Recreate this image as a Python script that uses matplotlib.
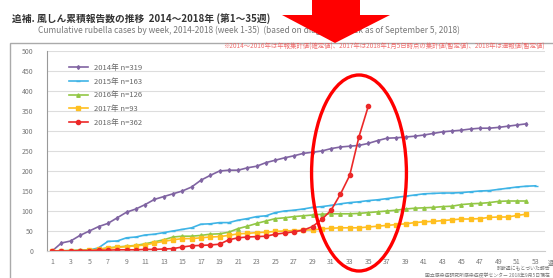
import numpy as np
import matplotlib
matplotlib.use('Agg')
import matplotlib.pyplot as plt
from matplotlib.patches import Ellipse, Polygon, Rectangle

plt.rcParams['font.family'] = ['Noto Sans CJK JP', 'DejaVu Sans']

# cumulative rubella reports by week
y2014 = [0, 20, 25, 39, 50, 61, 69, 83, 97, 105, 116, 129, 136, 143, 150, 160, 177, 189, 200, 202,
         202, 208, 212, 221, 227, 233, 238, 244, 247, 250, 256, 260, 262, 264, 269, 276, 282, 283, 285, 287,
         290, 294, 298, 300, 302, 305, 307, 307, 309, 312, 315, 318]
y2015 = [0, 0, 1, 1, 2, 8, 24, 25, 33, 35, 40, 42, 46, 50, 54, 58, 67, 68, 71, 71,
         77, 81, 86, 88, 96, 100, 102, 105, 109, 111, 114, 118, 121, 123, 126, 128, 131, 134, 137, 140,
         143, 144, 145, 145, 146, 148, 150, 151, 154, 157, 160, 162, 163]
y2016 = [0, 1, 1, 2, 3, 4, 8, 10, 12, 14, 18, 23, 28, 35, 37, 37, 39, 42, 43, 47,
         56, 62, 69, 75, 81, 83, 86, 88, 90, 92, 93, 93, 93, 94, 96, 98, 100, 102, 105, 107,
         108, 109, 111, 112, 116, 118, 119, 121, 124, 125, 125, 125]
y2017 = [0, 0, 1, 1, 2, 4, 7, 9, 11, 13, 15, 20, 24, 28, 31, 31, 33, 35, 36, 39,
         43, 44, 46, 47, 49, 50, 51, 52, 53, 55, 57, 58, 58, 58, 60, 62, 64, 66, 68, 71,
         73, 74, 76, 78, 80, 80, 81, 84, 85, 85, 89, 92]
y2018 = [0, 0, 0, 1, 1, 2, 2, 3, 3, 3, 4, 4, 5, 6, 10, 13, 14, 15, 17, 28,
         33, 35, 36, 37, 42, 45, 48, 52, 61, 79, 102, 142, 189, 286, 362]

labels = ['2014年 n=319', '2015年 n=163', '2016年 n=126', '2017年 n=93', '2018年 n=362']
colors = ['#8064A2', '#3FB4E6', '#92C745', '#FFBF1F', '#EC2828']
markers = ['d', '_', '^', 's', 'o']
msizes = [2, 3, 2.5, 3, 3]
series = [y2014, y2015, y2016, y2017, y2018]

fig = plt.figure(figsize=(5.53, 2.78), dpi=100)
ax = fig.add_axes([47/553, 1-251/278, 498/553, 200/278])

for ys, lab, c, m, s in zip(series, labels, colors, markers, msizes):
    wk = np.arange(1, len(ys)+1)
    ax.plot(wk, ys, color=c, lw=1.2, marker=m, ms=s, mec=c, mfc=c, label=lab)

ax.set_xlim(0.45, 54.0)
ax.set_ylim(0, 500)
ax.set_yticks(range(0, 501, 50))
ax.set_xticks(range(1, 54, 2))
ax.tick_params(axis='both', length=0, labelsize=5, labelcolor='#777777')
ax.tick_params(axis='y', pad=10)
ax.tick_params(axis='x', pad=5)
ax.grid(axis='y', color='#dddddd', lw=0.8)
ax.set_axisbelow(True)
for sp in ['top', 'right']:
    ax.spines[sp].set_visible(False)
ax.spines['left'].set_color('#999999')
ax.spines['bottom'].set_color('#cccccc')
ax.text(1.005, -0.045, '週', transform=ax.transAxes, fontsize=5, color='#777777', va='top')

leg = ax.legend(loc='upper left', bbox_to_anchor=(0.03, 0.97), frameon=False, fontsize=5.5,
                handlelength=2.5, labelspacing=0.75, labelcolor='#666666')

# titles
fig.text(12/553, 1-19/278, '追補. 風しん累積報告数の推移  2014〜2018年 (第1〜35週)',
         fontsize=7, fontweight='bold', color='#333333', va='center')
fig.text(38/553, 1-30/278,
         'Cumulative rubella cases by week, 2014-2018 (week 1-35)  (based on diagnosis week as of September 5, 2018)',
         fontsize=6, color='#777777', va='center')
fig.text(545/553, 1-47/278,
         '※2014〜2016年は年報集計値(確定値)、2017年は2018年1月5日時点の集計値(暫定値)、2018年は速報値(暫定値)',
         fontsize=4.6, color='#EE5555', ha='right', va='center', alpha=0.85)
fig.text(550/553, 1-269/278, '診断週にもとづいた報告', fontsize=3.5, color='#777777', ha='right', va='center')
fig.text(550/553, 1-276/278, '国立感染症研究所感染症疫学センター 2018年9月5日現在', fontsize=3.5,
         color='#777777', ha='right', va='center')

# outer frame
fig.add_artist(Rectangle((10/553, -0.1), 1.2, 1-43/278+0.1, transform=fig.transFigure,
                         fill=False, ec='#aaaaaa', lw=1))

# red highlight ellipse
ax.add_patch(Ellipse((34.0, 195), 10.2, 490, fill=False, ec='#FF0000', lw=2.4, clip_on=False, zorder=10))

# big red arrow
arrow = [(312, 0), (360, 0), (360, 15), (390, 15), (335, 43), (282, 15), (312, 15)]
arrow = [(x/553, 1-y/278) for x, y in arrow]
fig.add_artist(Polygon(arrow, closed=True, transform=fig.transFigure, fc='#FF0000', ec='none', zorder=20))

fig.savefig('out.png', dpi=100, facecolor='white')
